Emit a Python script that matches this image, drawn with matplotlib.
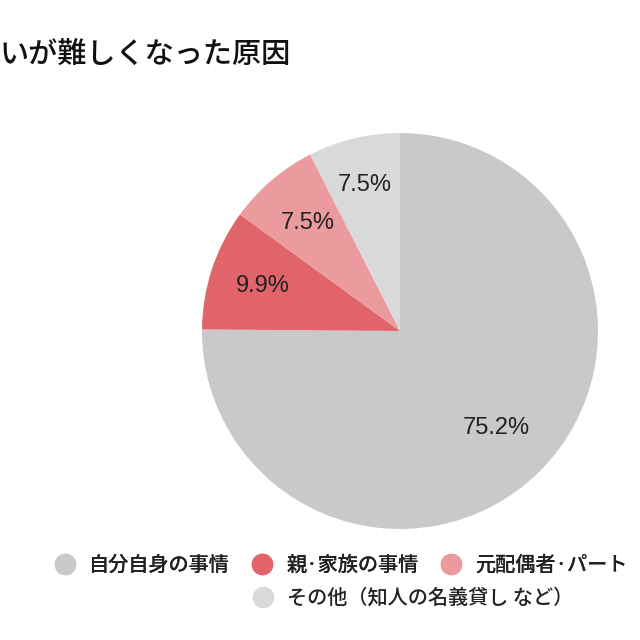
import matplotlib
matplotlib.use("Agg")
import matplotlib.pyplot as plt
from matplotlib.lines import Line2D
import numpy as np

plt.rcParams['font.family'] = ['Noto Sans CJK JP', 'DejaVu Sans']

# data (third label as far as it is visible in the reference)
labels = ['自分自身の事情', '親·家族の事情', '元配偶者·パート', 'その他（知人の名義貸し など）']
values = [75.2, 9.9, 7.5, 7.5]
pct_text = ['75.2%', '9.9%', '7.5%', '7.5%']
colors = ['#c9c9c9', '#e0646a', '#eb9b9d', '#d9d9d9']
title = 'いが難しくなった原因'

fig = plt.figure(figsize=(6.4, 6.4), dpi=100)
fig.patch.set_facecolor('white')

# pie centre (400, 331) px, radius 198 px
ax = fig.add_axes([202/640, (640-331-198)/640, 396/640, 396/640])
wedges, _ = ax.pie(values, colors=colors, startangle=90, counterclock=False,
                   wedgeprops=dict(linewidth=0))
ax.set_xlim(-1, 1)
ax.set_ylim(-1, 1)
ax.set_aspect('equal')
ax.axis('off')

# percentage labels
dists = [0.69, 0.73, 0.72, 0.76]
for w, txt, d in zip(wedges, pct_text, dists):
    mid = np.deg2rad((w.theta1 + w.theta2) / 2)
    ax.text(d * np.cos(mid), d * np.sin(mid), txt, ha='center', va='center',
            fontsize=17, color='#222222', family=['Liberation Sans', 'DejaVu Sans'])

fig.text(0.0, 1 - 64/640, title, fontsize=21, color='#111111', ha='left',
         va='baseline', weight='medium')

# legend (two rows, second row centred)
def handle(c):
    return Line2D([], [], marker='o', linestyle='none', markersize=14.5,
                  markerfacecolor=c, markeredgecolor=c)

leg_kw = dict(frameon=False, handletextpad=0.7, handlelength=1.0,
              borderpad=0, borderaxespad=0, labelcolor='#222222',
              prop=dict(size=14.5, weight='medium'))
leg1 = fig.legend([handle(c) for c in colors[:3]], labels[:3], ncol=3,
                  loc='center left', bbox_to_anchor=(55/640, 1 - 565/640),
                  columnspacing=1.1, **leg_kw)
fig.add_artist(leg1)
fig.legend([handle(colors[3])], labels[3:], loc='center left',
           bbox_to_anchor=(253/640, 1 - 598/640), **leg_kw)

fig.savefig('out.png', dpi=100)
